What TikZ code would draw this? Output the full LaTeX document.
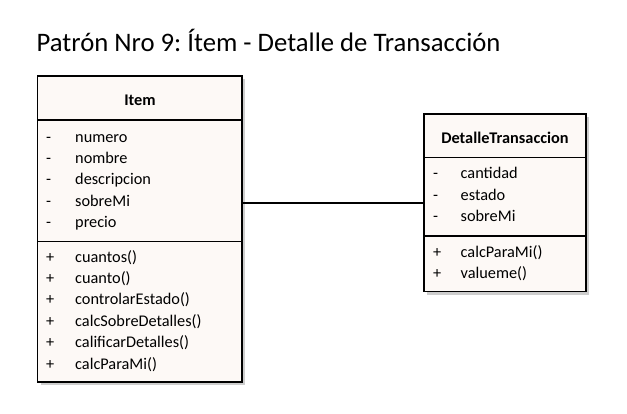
\documentclass[tikz,border=0pt]{standalone}
\usepackage{fontspec}
\setmainfont{Carlito}
\frenchspacing
\definecolor{boxfill}{RGB}{253,249,246}
\definecolor{shadowc}{RGB}{205,205,205}
\begin{document}
\begin{tikzpicture}[x=1pt,y=-1pt,
  classbox/.style={draw=black, line width=1.6pt, fill=boxfill, inner sep=0pt},
  shadowbox/.style={fill=shadowc, draw=none, inner sep=0pt},
  divider/.style={line width=1.6pt},
  row/.style={anchor=base west, inner sep=0pt, font=\fontsize{16.3}{18}\selectfont},
  ctitle/.style={anchor=base, inner sep=0pt, font=\fontsize{16.3}{18}\selectfont\bfseries},
  assoc/.style={line width=1.3pt}]
\useasboundingbox (0,0) rectangle (627,414);
\fill[white] (0,0) rectangle (627,414);

\node[anchor=base west, inner sep=0pt, font=\fontsize{26.7}{30}\selectfont] (title) at (36.5,51.5) {Patrón Nro 9: Ítem - Detalle de Transacción};

% shadows
\node[shadowbox, minimum width=204.5pt, minimum height=306pt] (itemsh) at (142.75,232) {};
\node[shadowbox, minimum width=161.7pt, minimum height=177.7pt] (detsh) at (507.85,205.85) {};

% Item class
\node[classbox, minimum width=204.5pt, minimum height=306pt] (item) at (139.75,229) {};
\coordinate (i1w) at (37.5,120); \coordinate (i1e) at (242,120);
\coordinate (i2w) at (37.5,241.5); \coordinate (i2e) at (242,241.5);
\draw[divider] (i1w) -- (i1e);
\draw[divider] (i2w) -- (i2e);
\node[ctitle] (itemt) at (140,105.5) {Item};
\foreach \n/\y/\s/\t in {a1/142.5/-/numero, a2/163.5/-/nombre, a3/185/-/descripcion, a4/206.5/-/sobreMi, a5/227.5/-/precio,
  m1/262.5/+/cuantos(), m2/283.5/+/cuanto(), m3/305/+/controlarEstado(), m4/326.5/+/calcSobreDetalles(), m5/348/+/calificarDetalles(), m6/369/+/calcParaMi()}{
  \node[row] (item\n s) at (46,\y) {\s};
  \node[row] (item\n) at (75,\y) {\t};
}

% DetalleTransaccion class
\node[classbox, minimum width=161.7pt, minimum height=177.7pt] (det) at (504.85,202.85) {};
\coordinate (d1w) at (424,157.5); \coordinate (d1e) at (585.7,157.5);
\coordinate (d2w) at (424,236); \coordinate (d2e) at (585.7,236);
\draw[divider] (d1w) -- (d1e);
\draw[divider] (d2w) -- (d2e);
\node[ctitle] (dett) at (505,143.3) {DetalleTransaccion};
\foreach \n/\y/\s/\t in {a1/179/-/cantidad, a2/200.5/-/estado, a3/221.5/-/sobreMi, m1/257.5/+/calcParaMi(), m2/278.5/+/valueme()}{
  \node[row] (det\n s) at (433,\y) {\s};
  \node[row] (det\n) at (460.5,\y) {\t};
}

% association
\draw[assoc] (item.east |- 0,203) -- (det.west |- 0,203);
\end{tikzpicture}
\end{document}
